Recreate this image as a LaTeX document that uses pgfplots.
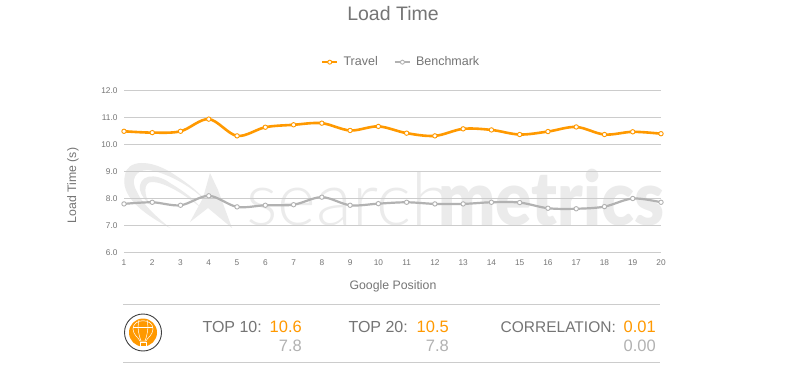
\documentclass[border=0pt]{standalone}
\usepackage{pgfplots}
\pgfplotsset{compat=1.18}
\usepackage{fontspec}
\setmainfont{Liberation Sans}
\newfontfamily\wmlight{Lato Light}
\newfontfamily\wmbold{Lato Black}
\definecolor{org}{HTML}{FF9900}
\definecolor{gry}{HTML}{B2B2B2}
\definecolor{gridc}{HTML}{CCCCCC}
\definecolor{txt}{HTML}{757575}
\definecolor{wm}{HTML}{EBEBEB}
\begin{document}
\begin{tikzpicture}[x=1pt,y=1pt]
\path[use as bounding box,fill=white] (0,0) rectangle (792,378);
\begin{scope}[shift={(0,378)},y=-1pt]
\fill[wm] (170,228) .. controls (140,212) and (120,195) .. (125,175) .. controls (127,160) and (150,158) .. (175,175) .. controls (190,185) and (200,193) .. (207,202) .. controls (190,185) and (165,172) .. (148,170) .. controls (135,170) and (130,180) .. (137,192) .. controls (143,205) and (158,218) .. (170,228) -- cycle;
\fill[wm] (140,190) .. controls (138,175) and (155,172) .. (170,183) .. controls (185,192) and (195,200) .. (200,207) .. controls (185,195) and (165,182) .. (152,182) .. controls (143,182) and (144,195) .. (150,205) .. controls (145,200) and (141,195) .. (140,190) -- cycle;
\fill[wm] (210,173) -- (218,190) -- (232,228) -- (208,208) -- (190,222) -- (203,198) -- cycle;
\node[anchor=base west,inner sep=0,text=wm,font=\wmlight\fontsize{74}{74}\selectfont] at (246,225) {search};
\node[anchor=base west,inner sep=0,text=wm,xscale=0.9,font=\wmbold\fontsize{75}{75}\selectfont] at (438,225) {metrics};
\node[text=txt,font=\fontsize{19.5}{20}\selectfont] at (393,14) {Load Time};
\node[text=txt,font=\fontsize{12.3}{13}\selectfont] at (393,286) {Google Position};
\node[text=txt,rotate=90,font=\fontsize{12.3}{13}\selectfont] at (73,185.5) {Load Time (s)};
\draw[gridc,line width=0.9pt] (123,304) -- (660,304);
\draw[gridc,line width=0.9pt] (123,362) -- (660,362);
\draw[black!75,line width=0.9pt] (143,332.5) circle (18.5);
\fill[org] (143,332.5) circle (14);
\begin{scope}[white,line width=0.5pt]
\draw (133,329) .. controls (133,318) and (153,318) .. (153,329) .. controls (153,335) and (147,338) .. (146,341) -- (140,341) .. controls (139,338) and (133,335) .. (133,329) -- cycle;
\draw (140,342) rectangle (146,346);
\draw (133,327) -- (153,327);
\draw (139,320) .. controls (137,328) and (139,336) .. (141,341);
\draw (147,320) .. controls (149,328) and (147,336) .. (145,341);
\end{scope}
\def\lab#1#2#3#4{\node[anchor=base east,inner sep=0,text=#3,font=\fontsize{#4}{17}\selectfont] at (#1,#2)}
\lab{262}{332}{txt}{16} {TOP 10:};
\lab{302}{332}{org}{16.5} {10.6};
\lab{302}{351}{gry}{16.5} {7.8};
\lab{408}{332}{txt}{16} {TOP 20:};
\lab{449}{332}{org}{16.5} {10.5};
\lab{449}{351}{gry}{16.5} {7.8};
\lab{616}{332}{txt}{15.5} {CORRELATION:};
\lab{656}{332}{org}{16.5} {0.01};
\lab{656}{351}{gry}{16.5} {0.00};
\end{scope}
\begin{axis}[
  at={(124pt,125.5pt)},anchor=south west,
  scale only axis,width=537pt,height=162pt,
  xmin=1,xmax=20,ymin=6,ymax=12,
  axis line style={draw=none},
  major tick length=0pt,
  xtick={1,...,20},
  ytick={6,7,...,12},
  /pgf/number format/assume math mode=true,
  ymajorgrids,grid style={gridc,line width=0.9pt},
  tick label style={font=\fontsize{8.3}{9}\selectfont,text=txt},
  xticklabel style={yshift=-3.5pt},
  yticklabel style={xshift=-3pt,/pgf/number format/fixed,/pgf/number format/fixed zerofill,/pgf/number format/precision=1},
  clip=false,
  legend columns=2,
  legend style={draw=none,fill=none,font=\fontsize{12.5}{13}\selectfont,text=txt,
     anchor=center,at={(axis description cs:0.516,1.175)},
     /tikz/every odd column/.append style={column sep=3pt},
     /tikz/every even column/.append style={column sep=14pt}},
  legend image code/.code={
     \draw[#1,mark=none] (0,0) -- (15pt,0);
     \draw[#1,mark=none,fill=white,line width=0.9pt] (7.5pt,0) circle (2pt);
  },
  every axis plot/.append style={smooth,tension=0.55},
]
\addplot[org,line width=2.6pt,mark=*,mark size=2.2pt,mark options={draw=org,fill=white,line width=0.9pt}] coordinates {
(1,10.49)(2,10.44)(3,10.49)(4,10.94)(5,10.32)(6,10.64)(7,10.73)(8,10.79)(9,10.52)(10,10.67)
(11,10.42)(12,10.32)(13,10.58)(14,10.54)(15,10.37)(16,10.48)(17,10.65)(18,10.37)(19,10.47)(20,10.40)};
\addlegendentry{Travel}
\addplot[gry,line width=2.2pt,mark=*,mark size=2.2pt,mark options={draw=gry,fill=white,line width=0.9pt}] coordinates {
(1,7.80)(2,7.86)(3,7.75)(4,8.10)(5,7.69)(6,7.75)(7,7.77)(8,8.05)(9,7.75)(10,7.81)
(11,7.86)(12,7.80)(13,7.80)(14,7.86)(15,7.85)(16,7.64)(17,7.62)(18,7.70)(19,8.00)(20,7.86)};
\addlegendentry{Benchmark}
\end{axis}
\end{tikzpicture}
\end{document}
